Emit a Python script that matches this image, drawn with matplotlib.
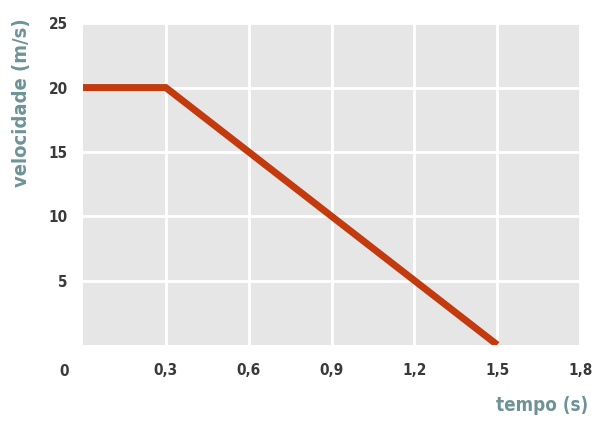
import matplotlib
matplotlib.use("Agg")
import matplotlib.pyplot as plt

tempo = [0.0, 0.3, 1.5]
velocidade = [20, 20, 0]
xticks = [0.3, 0.6, 0.9, 1.2, 1.5, 1.8]
xticklabels = ["0,3", "0,6", "0,9", "1,2", "1,5", "1,8"]
yticks = [5, 10, 15, 20, 25]
yticklabels = ["5", "10", "15", "20", "25"]

fam = ["DejaVu Sans"]
tick_color = "#3a3a3a"
label_color = "#6e9397"
tick_kw = dict(family=fam, fontsize=11, fontweight="bold", fontstretch="condensed", color=tick_color)

fig = plt.figure(figsize=(5.92, 4.30), dpi=100)
ax = fig.add_axes([0.140, 0.198, 0.840, 0.748])
ax.set_facecolor("#e6e6e6")
ax.set_xlim(0, 1.8)
ax.set_ylim(0, 25)
for s in ax.spines.values():
    s.set_visible(False)
ax.set_xticks(xticks)
ax.set_xticklabels(xticklabels, **tick_kw)
ax.set_yticks(yticks)
ax.set_yticklabels(yticklabels, **tick_kw)
ax.tick_params(length=0)
ax.tick_params(axis="x", pad=13)
ax.tick_params(axis="y", pad=11)
ax.grid(True, color="white", linewidth=2)
ax.set_axisbelow(True)

ax.plot(tempo, velocidade, color="#c23a0e", linewidth=5, solid_capstyle="butt", solid_joinstyle="miter")

ax.text(-0.05, -1.45, "0", ha="right", va="top", **tick_kw)

fig.text(0.993, 0.035, "tempo (s)", family=fam, fontsize=13.5, fontweight="bold", fontstretch="condensed",
         color=label_color, ha="right", va="bottom")
fig.text(0.037, 0.762, "velocidade (m/s)", family=fam, fontsize=14.5, fontweight="bold", fontstretch="condensed",
         color=label_color, ha="center", va="center", rotation=90)

fig.savefig("out.png", dpi=100)
